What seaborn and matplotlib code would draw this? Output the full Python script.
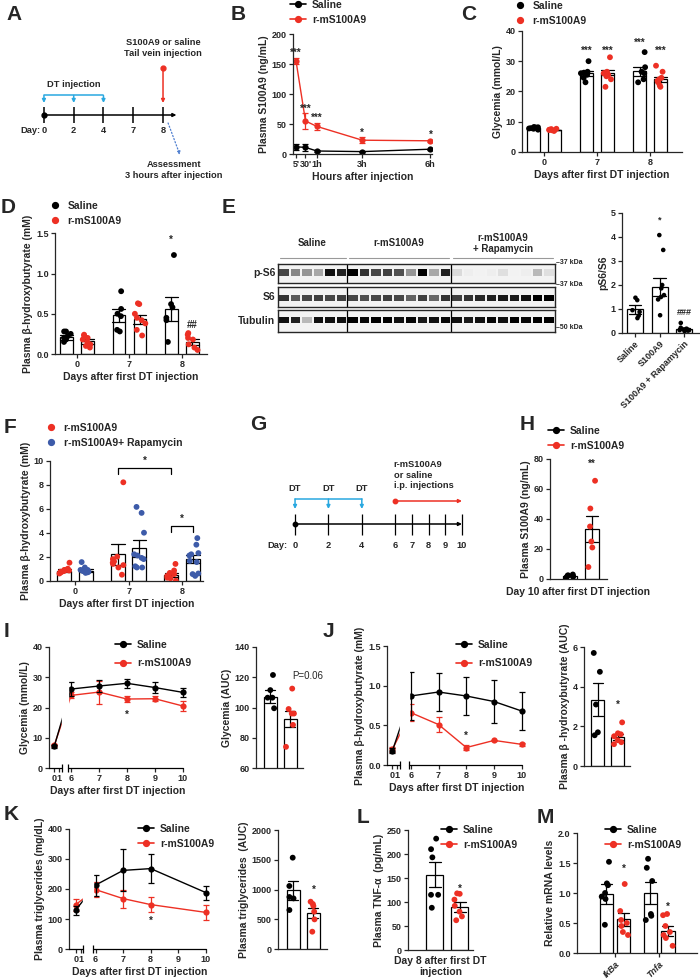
import numpy as np
import pandas as pd
import matplotlib.pyplot as plt
import seaborn as sns
from matplotlib.lines import Line2D

sns.set_style('ticks')
plt.rcParams['font.family'] = ['Liberation Sans', 'DejaVu Sans']
plt.rcParams.update({'font.weight': 'bold', 'axes.labelweight': 'bold', 'axes.linewidth': 0.9,
                     'xtick.major.width': 0.9, 'ytick.major.width': 0.9,
                     'xtick.major.size': 3, 'ytick.major.size': 3,
                     'xtick.labelsize': 6.5, 'ytick.labelsize': 6.5, 'axes.labelsize': 7.5,
                     'xtick.major.pad': 1.5, 'ytick.major.pad': 1.5, 'axes.labelpad': 2})
np.random.seed(3)

RED = '#ed3024'
BLUE = '#3d5ba9'
SKY = '#29a8e0'
SAL, RM, RAPA = 'Saline', 'r-mS100A9', 'r-mS100A9+ Rapamycin'
PAL = {SAL: 'black', RM: RED, RAPA: BLUE}
DAYS_LBL = 'Days after first DT injection'

# ---------------- data ----------------
# A: timeline
a_days = ['0', '2', '4', '7', '8']
a_dt = ['0', '2', '4']
a_s100 = '8'

# B: plasma S100A9 after injection (mean, sem)
b_hours = [5 / 60, 0.5, 1, 3, 6]
b_hour_labels = ["5'", "30'", "1h", "3h", "6h"]
b_sal_mean = [12, 11, 5, 4, 8]
b_sal_sem = [5, 6, 1.5, 1, 1]
b_rm_mean = [155, 55, 46, 23, 22]
b_rm_sem = [5, 13, 6, 5, 2]
b_stars = ['***', '***', '***', '*', '*']

# C: glycemia
c_days = ['0', '7', '8']
c_sal_mean = [7.8, 26.0, 26.6]
c_sal_sem = [0.2, 0.8, 1.4]
c_rm_mean = [7.2, 26.2, 24.0]
c_rm_sem = [0.15, 0.9, 0.9]
c_sal_pts = [[8.2, 8.0, 7.8, 7.6, 8.1, 7.3, 7.7],
             [30.0, 26.5, 26.0, 25.5, 24.5, 23.0, 26.2],
             [33.0, 28.0, 26.5, 26.0, 24.0, 23.0]]
c_rm_pts = [[7.5, 7.3, 7.0, 7.2, 6.9, 7.6, 7.1],
            [31.3, 26.5, 26.0, 25.5, 24.0, 21.5, 26.0, 25.0],
            [28.5, 26.5, 24.5, 24.0, 23.5, 22.0, 21.5, 23.0]]
c_marks = [('7', SAL, '***', 33.5), ('7', RM, '***', 33.5), ('8', SAL, '***', 36), ('8', RM, '***', 33.5)]

# D: plasma beta-hydroxybutyrate
d_days = ['0', '7', '8']
d_sal_mean = [0.21, 0.48, 0.56]
d_sal_sem = [0.03, 0.08, 0.15]
d_rm_mean = [0.16, 0.43, 0.15]
d_rm_sem = [0.03, 0.06, 0.04]
d_sal_pts = [[0.28, 0.28, 0.25, 0.22, 0.20, 0.15, 0.18],
             [0.78, 0.56, 0.50, 0.47, 0.30, 0.28],
             [1.23, 0.62, 0.58, 0.45, 0.42, 0.15]]
d_rm_pts = [[0.24, 0.23, 0.20, 0.18, 0.15, 0.10, 0.08, 0.12],
            [0.63, 0.62, 0.50, 0.45, 0.38, 0.30, 0.23, 0.42],
            [0.26, 0.24, 0.20, 0.18, 0.12, 0.05, 0.08]]
d_marks = [('8', SAL, '*', 1.42), ('8', RM, '##', 0.36)]

# E: western blot band intensities and quantification
e_groups = ['Saline', 'r-mS100A9', 'r-mS100A9\n+ Rapamycin']
e_lanes = [6, 9, 9]
e_rows = ['p-S6', 'S6', 'Tubulin']
e_kda = ['37 kDa', '37 kDa', '50 kDa']
e_pS6 = [0.7, 0.5, 0.45, 0.4, 0.85, 0.8,
         1.0, 0.75, 0.7, 0.72, 0.68, 0.45, 0.9, 0.4, 0.8,
         0.22, 0.12, 0.1, 0.12, 0.2, 0.1, 0.12, 0.35, 0.2]
e_S6 = [0.75, 0.65, 0.7, 0.72, 0.7, 0.72,
        0.7, 0.68, 0.7, 0.72, 0.7, 0.62, 0.72, 0.6, 0.75,
        0.72, 0.75, 0.78, 0.8, 0.82, 0.82, 0.85, 0.9, 0.92]
e_tub = [0.85, 0.8, 0.35, 0.85, 0.85, 0.85,
         0.9, 0.88, 0.9, 0.9, 0.85, 0.88, 0.82, 0.85, 0.88,
         0.85, 0.82, 0.85, 0.88, 0.85, 0.9, 0.88, 0.9, 0.9]
e_cats = ['Saline', 'S100A9', 'S100A9 + Rapamycin']
e_mean = [0.98, 1.93, 0.15]
e_sem = [0.17, 0.38, 0.04]
e_pts = [[1.47, 1.37, 0.95, 0.88, 0.72, 0.62],
         [4.08, 3.46, 2.0, 1.86, 1.58, 1.5, 1.4, 0.74],
         [0.42, 0.22, 0.18, 0.15, 0.12, 0.1, 0.08, 0.12, 0.15]]
e_marks = [('S100A9', '*', 4.7), ('S100A9 + Rapamycin', '###', 0.85)]

# F: rapamycin
f_days = ['0', '7', '8']
f_rm_mean = [0.85, 2.2, 0.5]
f_rm_sem = [0.1, 0.9, 0.15]
f_rapa_mean = [0.85, 2.7, 1.8]
f_rapa_sem = [0.1, 0.7, 0.35]
f_rm_pts = [[1.5, 1.0, 0.9, 0.8, 0.7, 0.75, 0.6, 0.85, 0.9],
            [8.2, 2.0, 1.8, 1.5, 1.4, 1.3, 1.1, 0.5, 1.6],
            [1.4, 0.85, 0.65, 0.55, 0.4, 0.3, 0.2, 0.0, 0.25]]
f_rapa_pts = [[1.55, 1.1, 0.9, 0.85, 0.75, 0.7, 0.65, 0.8, 0.9],
              [6.15, 5.65, 4.0, 2.1, 2.2, 1.8, 1.1, 1.1, 1.2, 1.9],
              [3.55, 3.0, 2.3, 2.2, 2.1, 1.65, 1.55, 0.6, 0.4, 0.55]]
f_brackets = [(('7', RM), ('8', RM), 9.4), (('8', RM), ('8', RAPA), 4.6)]

# G: timeline
g_days = [0, 2, 4, 6, 7, 8, 9, 10]
g_dt = [0, 2, 4]
g_treat = [6, 10]

# H: plasma S100A9 at day 10
h_mean = [2.0, 33.3]
h_sem = [0.3, 8.5]
h_pts = [[2.5, 2.0, 1.5, 1.0, 2.0, 3.0], [65.5, 47, 35, 25, 21, 8]]

# I, J, K: time courses (mean, sem) and AUC
ijk_days = [0, 6, 7, 8, 9, 10]
i_sal_mean = [7.2, 26.1, 27.1, 28.0, 26.6, 25.0]
i_sal_sem = [0.5, 2.2, 2.0, 1.5, 1.7, 1.5]
i_rm_mean = [7.5, 24.0, 25.1, 22.8, 22.9, 20.5]
i_rm_sem = [0.4, 1.0, 3.8, 1.0, 0.8, 1.6]
i_auc_mean = [107, 92.5]
i_auc_sem = [4.3, 5.5]
i_auc_pts = [[121.5, 111.5, 106.5, 106.5, 99.5], [112.5, 99, 96, 96, 88.5, 74]]

j_sal_mean = [0.18, 0.87, 0.92, 0.87, 0.80, 0.68]
j_sal_sem = [0.03, 0.30, 0.24, 0.24, 0.27, 0.24]
j_rm_mean = [0.20, 0.66, 0.51, 0.22, 0.31, 0.26]
j_rm_sem = [0.03, 0.11, 0.09, 0.03, 0.01, 0.02]
j_auc_mean = [3.35, 1.48]
j_auc_sem = [0.85, 0.15]
j_auc_pts = [[5.7, 4.75, 3.1, 1.7, 1.55], [2.2, 1.65, 1.6, 1.5, 1.3, 1.1, 1.2]]

k_days = [0, 6, 7, 8, 10]
k_sal_mean = [130, 213, 262, 268, 188]
k_sal_sem = [15, 35, 70, 48, 23]
k_rm_mean = [148, 198, 168, 148, 122]
k_rm_sem = [20, 25, 30, 26, 24]
k_auc_mean = [985, 605]
k_auc_sem = [155, 85]
k_auc_pts = [[1535, 1059, 874, 851, 655], [795, 756, 723, 627, 498, 291]]

# L: TNF-alpha
l_mean = [157, 90]
l_sem = [26, 10]
l_pts = [[232, 210, 193, 115, 115, 88], [118, 117, 105, 92, 80, 62, 70]]

# M: mRNA
m_genes = ['IkBa', 'Tnfa']
m_sal_mean = [0.98, 1.0]
m_sal_sem = [0.17, 0.18]
m_rm_mean = [0.56, 0.37]
m_rm_sem = [0.11, 0.08]
m_sal_pts = [[1.52, 1.16, 1.13, 1.0, 0.94, 0.9, 0.47], [1.57, 1.42, 1.2, 0.65, 0.62, 0.55]]
m_rm_pts = [[1.15, 0.7, 0.55, 0.5, 0.45, 0.35, 0.3], [0.65, 0.63, 0.45, 0.35, 0.3, 0.25, 0.12]]
m_marks = [('IkBa', RM, '*', 1.4), ('Tnfa', RM, '*', 0.77)]

# ---------------- helpers ----------------
W, H = 700, 980
fig = plt.figure(figsize=(W / 100, H / 100), dpi=100)


def px_axes(left, top, right, bottom):
    return fig.add_axes([left / W, 1 - bottom / H, (right - left) / W, (bottom - top) / H])


def err_frame(cats, series):
    # two rows per bar/point: mean - sem and mean + sem. Their mean is the value and
    # their full range (errorbar=('pi', 100)) is the SEM bar.
    rows = []
    for name, (means, sems) in series.items():
        for c, m, s in zip(cats, means, sems):
            rows += [(c, name, m - s), (c, name, m + s)]
    return pd.DataFrame(rows, columns=['x', 'g', 'v'])


def pts_frame(cats, series):
    rows = []
    for name, groups in series.items():
        for c, vals in zip(cats, groups):
            rows += [(c, name, v) for v in vals]
    return pd.DataFrame(rows, columns=['x', 'g', 'v'])


def bars(ax, ebar, pts, order, hue, hue_order, palette, width=0.8, gap=0.0, jitter=0.2, size=4.2):
    dodge = hue == 'g'
    sns.barplot(ebar, x='x', y='v', hue=hue, order=order, hue_order=hue_order,
                palette={k: 'white' for k in hue_order}, edgecolor='black', linewidth=0.9,
                estimator='mean', errorbar=('pi', 100), capsize=0.5,
                err_kws={'color': 'black', 'linewidth': 0.9},
                width=width, gap=gap, dodge=dodge, legend=False, ax=ax)
    sns.stripplot(pts, x='x', y='v', hue=hue, order=order, hue_order=hue_order, palette=palette,
                  dodge=dodge, jitter=jitter, size=size, linewidth=0, legend=False, ax=ax, zorder=3)
    ax.set_xlabel('')


def lines(ax, x, series, ms=4.5):
    sns.lineplot(err_frame(x, series), x='x', y='v', hue='g', hue_order=[RM, SAL], palette=PAL,
                 estimator='mean', errorbar=('pi', 100), err_style='bars',
                 err_kws={'capsize': 2.2, 'elinewidth': 0.9, 'capthick': 0.9},
                 marker='o', markersize=ms, markeredgewidth=0, linewidth=1.0, legend=False, ax=ax)
    ax.set_xlabel('')


def style(ax, ylim, yticks, ylabel):
    sns.despine(ax=ax)
    ax.set_ylim(*ylim)
    ax.set_yticks(yticks)
    ax.set_ylabel(ylabel)


def broken_x(ax, lo, end1, start2, hi, s1, gap, s2, pad=0.15):
    # GraphPad style broken axis: days lo..end1 squeezed, a gap, then start2..hi
    xs = [lo, end1, start2, hi + pad]
    ps = np.cumsum([0, (end1 - lo) * s1, gap, (hi + pad - start2) * s2])
    ax.set_xscale('function', functions=(lambda d: np.interp(d, xs, ps), lambda p: np.interp(p, ps, xs)))
    ax.set_xlim(lo, hi + pad)
    ax.set_xticks([0, 1, 6, 7, 8, 9, 10])
    ax.set_xticklabels(['0', '1', '6', '7', '8', '9', '10'])
    ax.spines['bottom'].set_visible(False)
    ax.axvspan(end1, start2, color='white', zorder=4)
    tf = ax.get_xaxis_transform()
    ax.plot([lo, end1], [0, 0], transform=tf, color='black', lw=0.9, marker='|', markevery=[1],
            ms=6, mew=0.9, clip_on=False, zorder=5)
    ax.plot([start2, hi], [0, 0], transform=tf, color='black', lw=0.9, marker='|', markevery=[0],
            ms=6, mew=0.9, clip_on=False, zorder=5)
    ax.set_xlabel(DAYS_LBL)


def mark(ax, x, y, s, size=7):
    ax.text(x, y, s, ha='center', va='center', fontsize=size, zorder=6)


def legend(ax, entries, x, y, line=True, spacing=0.45):
    handles = [Line2D([], [], color=PAL[e], marker='o', ms=4.2, lw=1.2 if line else 0, label=e)
               for e in entries]
    ax.legend(handles=handles, loc='upper left', bbox_to_anchor=(x / W, 1 - y / H),
              bbox_transform=fig.transFigure, frameon=False, fontsize=7.5,
              handlelength=1.5 if line else 0.7, handletextpad=0.6 if line else 0.9,
              labelspacing=spacing, borderpad=0, borderaxespad=0)


def off(hue_order, g):
    return (hue_order.index(g) - 0.5) * 0.4


arrow = dict(arrowstyle='-|>', lw=1.1, mutation_scale=5, shrinkA=0, shrinkB=0)

# ---------------- A ----------------
ax = px_axes(10, 35, 230, 185)
ax.axis('off')
ax.set_xlim(-1.14, 6.25)
ax.set_ylim(-7, 8)
pos = np.arange(len(a_days))
ax.annotate('', xy=(pos[-1] + 0.45, 0), xytext=(0, 0), arrowprops=dict(arrow, color='black'))
ax.vlines(pos, -0.8, 0.8, color='black', lw=1.1)
ax.plot(0, 0, 'o', color='black', ms=3.5)
for p, d in zip(pos, a_days):
    ax.text(p, -1.6, d, ha='center', va='center', fontsize=6.7)
ax.text(-0.1, -1.6, 'Day:', ha='right', va='center', fontsize=6.7)
dt_pos = [a_days.index(d) for d in a_dt]
ax.plot([dt_pos[0], dt_pos[-1]], [1.95, 1.95], color=SKY, lw=1.1)
for p in dt_pos:
    ax.annotate('', xy=(p, 1.2), xytext=(p, 1.95), arrowprops=dict(arrow, color=SKY))
ax.text(np.mean(dt_pos), 3.0, 'DT injection', ha='center', va='center', fontsize=6.7)
sp = a_days.index(a_s100)
ax.annotate('', xy=(sp, 1.2), xytext=(sp, 4.7), arrowprops=dict(arrow, color=RED))
ax.plot(sp, 4.7, 'o', color=RED, ms=3.5)
ax.text(sp, 6.7, 'S100A9 or saline\nTail vein injection', ha='center', va='center', fontsize=6.7,
        linespacing=1.15)
ax.annotate('', xy=(sp + 0.57, -4.0), xytext=(sp + 0.17, -0.8),
            arrowprops=dict(arrow, color='#4f7fd0', ls=':', lw=0.9))
ax.text(sp + 0.37, -5.5, 'Assessment\n3 hours after injection', ha='center', va='center',
        fontsize=6.7, linespacing=1.3)

# ---------------- B ----------------
ax = px_axes(293, 34, 432, 154)
lines(ax, b_hours, {SAL: (b_sal_mean, b_sal_sem), RM: (b_rm_mean, b_rm_sem)})
style(ax, (0, 200), range(0, 201, 50), 'Plasma S100A9 (ng/mL)')
ax.set_xlim(-0.05, 6.07)
ax.set_xticks(b_hours)
ax.set_xticklabels(b_hour_labels)
ax.set_xlabel('Hours after injection')
for h, m, s, st in zip(b_hours, b_rm_mean, b_rm_sem, b_stars):
    mark(ax, h, m + s + 8, st)
legend(ax, [SAL, RM], 290, 0)

# ---------------- C ----------------
ax = px_axes(522, 31, 682, 151.7)
bars(ax, err_frame(c_days, {SAL: (c_sal_mean, c_sal_sem), RM: (c_rm_mean, c_rm_sem)}),
     pts_frame(c_days, {SAL: c_sal_pts, RM: c_rm_pts}), c_days, 'g', [SAL, RM], PAL, gap=0.38, jitter=0.22)
style(ax, (0, 40), range(0, 41, 10), 'Glycemia (mmol/L)')
ax.set_xlim(-0.415, 2.6)
ax.set_xlabel(DAYS_LBL)
for d, g, s, y in c_marks:
    mark(ax, c_days.index(d) + off([SAL, RM], g), y, s)
legend(ax, [SAL, RM], 516, 1, line=False)

# ---------------- D ----------------
ax = px_axes(55, 233.3, 207, 354)
bars(ax, err_frame(d_days, {SAL: (d_sal_mean, d_sal_sem), RM: (d_rm_mean, d_rm_sem)}),
     pts_frame(d_days, {SAL: d_sal_pts, RM: d_rm_pts}), d_days, 'g', [SAL, RM], PAL, gap=0.4, jitter=0.22)
style(ax, (0, 1.5), [0, 0.5, 1.0, 1.5], 'Plasma β-hydroxybutyrate (mM)')
ax.set_xlim(-0.42, 2.48)
ax.set_xlabel(DAYS_LBL)
for d, g, s, y in d_marks:
    mark(ax, d_days.index(d) + off([SAL, RM], g), y, s)
legend(ax, [SAL, RM], 51, 201, line=False)

# ---------------- E blot ----------------
boxes = [(278, 264, 555, 283, 0.45), (278, 287, 555, 307, 0.55), (278, 310, 555, 332, 0.45)]
cum = np.concatenate([[0], np.cumsum(e_lanes)])
for i, (row, vals, kda, (l, t, r, b, f)) in enumerate(zip(e_rows, [e_pS6, e_S6, e_tub], e_kda, boxes)):
    ax = px_axes(l, t, r, b)
    sns.heatmap(np.array([vals]), ax=ax, cmap='Greys', vmin=0, vmax=0.9, cbar=False,
                linewidths=1.1, linecolor='#f3f3f3', xticklabels=False, yticklabels=False)
    ax.set_facecolor('#f3f3f3')
    total = (b - t) / 8.5
    top = 0.5 - f * total
    ax.set_ylim(top + total, top)
    for s in ax.spines.values():
        s.set_visible(True)
        s.set_linewidth(1.0)
    for c in cum[1:-1]:
        ax.axvline(c, color='black', lw=0.9)
    ax.text(-0.01, 0.5, row, transform=ax.transAxes, ha='right', va='center', fontsize=7.5)
    ky = 1.1 if i < 2 else 0.2
    ax.text(1.003, ky, '–' + kda, transform=ax.transAxes, ha='left', va='center', fontsize=5)
    if i == 0:
        tf = ax.get_xaxis_transform()
        for g, s0, n in zip(e_groups, cum[:-1], e_lanes):
            ax.text(s0 + n / 2, 2.1, g, transform=tf, ha='center', va='center', fontsize=7,
                    linespacing=1.1)
            ax.plot([s0 + 0.15, s0 + n - 0.15], [1.32, 1.32], transform=tf, color='#999999',
                    lw=0.8, clip_on=False)

# ---------------- E quantification ----------------
ax = px_axes(622, 213, 700, 333)
bars(ax, err_frame(e_cats, {'': (e_mean, e_sem)}), pts_frame(e_cats, {'': e_pts}), e_cats, 'x', e_cats,
     {c: 'black' for c in e_cats}, width=0.65, jitter=0.22, size=3.3)
style(ax, (0, 5), range(0, 6), 'pS6/S6')
ax.set_xlim(-0.53, 2.65)
ax.tick_params(axis='x', rotation=45)
plt.setp(ax.get_xticklabels(), ha='right', rotation_mode='anchor')
for c, s, y in e_marks:
    mark(ax, e_cats.index(c), y, s, size=6.5)

# ---------------- F ----------------
ax = px_axes(50, 460.7, 203, 580.7)
bars(ax, err_frame(f_days, {RM: (f_rm_mean, f_rm_sem), RAPA: (f_rapa_mean, f_rapa_sem)}),
     pts_frame(f_days, {RM: f_rm_pts, RAPA: f_rapa_pts}), f_days, 'g', [RM, RAPA], PAL, gap=0.35, jitter=0.22)
style(ax, (0, 10), range(0, 11, 2), 'Plasma β-hydroxybutyrate (mM)')
ax.set_xlim(-0.47, 2.39)
ax.set_xlabel(DAYS_LBL)
for (d1, g1), (d2, g2), y in f_brackets:
    x1 = f_days.index(d1) + off([RM, RAPA], g1)
    x2 = f_days.index(d2) + off([RM, RAPA], g2)
    ax.plot([x1, x1, x2, x2], [y - 0.5, y, y, y - 0.5], color='black', lw=0.9)
    mark(ax, (x1 + x2) / 2, y + 0.55, '*')
legend(ax, [RM, RAPA], 47, 423, line=False)

# ---------------- G ----------------
ax = px_axes(262, 450, 480, 555)
ax.axis('off')
ax.set_xlim(-1.98, 11.08)
ax.set_ylim(-3.1, 7.4)
ax.annotate('', xy=(g_days[-1], 0), xytext=(g_days[0], 0), arrowprops=dict(arrow, color='black'))
ax.vlines(g_days, -1.1, 1.0, color='black', lw=0.9)
ax.plot(g_days[0], 0, 'o', color='black', ms=3.2)
for d in g_days:
    ax.text(d, -2.2, str(d), ha='center', va='center', fontsize=6.7)
ax.text(-0.45, -2.2, 'Day:', ha='right', va='center', fontsize=6.7)
ax.plot([g_dt[0], g_dt[-1]], [2.5, 2.5], color=SKY, lw=1.1)
for d in g_dt:
    ax.annotate('', xy=(d, 1.5), xytext=(d, 2.5), arrowprops=dict(arrow, color=SKY))
    ax.text(d, 3.6, 'DT', ha='center', va='center', fontsize=6.7)
ax.annotate('', xy=(g_treat[1], 2.3), xytext=(g_treat[0], 2.3), arrowprops=dict(arrow, color=RED))
ax.plot(g_treat[0], 2.3, 'o', color=RED, ms=3.2)
ax.text(g_treat[0] - 0.1, 3.4, 'r-mS100A9\nor saline\ni.p. injections', ha='left', va='bottom',
        fontsize=6.7, linespacing=1.2)

# ---------------- H ----------------
ax = px_axes(550, 459, 607, 579)
bars(ax, err_frame([SAL, RM], {'': (h_mean, h_sem)}), pts_frame([SAL, RM], {'': h_pts}),
     [SAL, RM], 'x', [SAL, RM], PAL, width=0.6, jitter=0.2)
style(ax, (0, 80), range(0, 81, 20), 'Plasma S100A9 (ng/mL)')
ax.set_xlim(-0.9, 1.68)
ax.set_xticks([])
ax.set_xlabel('Day 10 after first DT injection', labelpad=6)
mark(ax, 1, 77, '**')
legend(ax, [SAL, RM], 548, 426)

# ---------------- I ----------------
ax = px_axes(49, 647, 187, 768)
lines(ax, ijk_days, {SAL: (i_sal_mean, i_sal_sem), RM: (i_rm_mean, i_rm_sem)})
style(ax, (0, 40), range(0, 41, 10), 'Glycemia (mmol/L)')
broken_x(ax, -1.06, 1.48, 5.9, 10.0, 5, 6.6, 28)
mark(ax, 8, 17.5, '*')
legend(ax, [SAL, RM], 115, 640, spacing=0.8)

ax = px_axes(256, 647, 303, 768)
bars(ax, err_frame([SAL, RM], {'': (i_auc_mean, i_auc_sem)}), pts_frame([SAL, RM], {'': i_auc_pts}),
     [SAL, RM], 'x', [SAL, RM], PAL, width=0.65, jitter=0.22)
style(ax, (60, 140), range(60, 141, 20), 'Glycemia (AUC)')
ax.set_xlim(-0.7, 1.65)
ax.set_xticks([])
ax.text(1.1, 121, 'P=0.06', ha='left', va='center', fontsize=7, fontweight='normal')

# ---------------- J ----------------
ax = px_axes(387, 646, 526, 765)
lines(ax, ijk_days, {SAL: (j_sal_mean, j_sal_sem), RM: (j_rm_mean, j_rm_sem)})
style(ax, (0, 1.5), [0, 0.5, 1.0, 1.5], 'Plasma β-hydroxybutyrate (mM)')
broken_x(ax, -1.1, 1.54, 5.94, 10.0, 5, 9, 27.9)
mark(ax, 8, 0.37, '*')
legend(ax, [SAL, RM], 456, 640, spacing=0.8)

ax = px_axes(584, 647, 630, 766)
bars(ax, err_frame([SAL, RM], {'': (j_auc_mean, j_auc_sem)}), pts_frame([SAL, RM], {'': j_auc_pts}),
     [SAL, RM], 'x', [SAL, RM], PAL, width=0.65, jitter=0.22)
style(ax, (0, 6), range(0, 7, 2), 'Plasma β -hydroxybutyrate (AUC)')
ax.set_xlim(-0.68, 1.6)
ax.set_xticks([])
mark(ax, 1, 3.1, '*')

# ---------------- K ----------------
ax = px_axes(69, 829, 210, 949)
lines(ax, k_days, {SAL: (k_sal_mean, k_sal_sem), RM: (k_rm_mean, k_rm_sem)})
style(ax, (0, 400), range(0, 401, 100), 'Plasma triglycerides (mg/dL)')
broken_x(ax, -1.17, 1.28, 5.91, 10.0, 5.7, 10, 27.5)
mark(ax, 8, 95, '*')
legend(ax, [SAL, RM], 138, 824)

ax = px_axes(278, 830, 327, 949)
bars(ax, err_frame([SAL, RM], {'': (k_auc_mean, k_auc_sem)}), pts_frame([SAL, RM], {'': k_auc_pts}),
     [SAL, RM], 'x', [SAL, RM], PAL, width=0.65, jitter=0.22)
style(ax, (0, 2000), range(0, 2001, 500), 'Plasma triglycerides  (AUC)')
ax.set_xlim(-0.75, 1.67)
ax.set_xticks([])
mark(ax, 1, 1000, '*')

# ---------------- L ----------------
ax = px_axes(408, 830, 473, 950)
bars(ax, err_frame([SAL, RM], {'': (l_mean, l_sem)}), pts_frame([SAL, RM], {'': l_pts}),
     [SAL, RM], 'x', [SAL, RM], PAL, width=0.68, jitter=0.22)
style(ax, (0, 250), range(0, 251, 50), 'Plasma TNF-α  (pg/mL)')
ax.set_xlim(-1.07, 1.52)
ax.set_xticks([])
ax.set_xlabel('Day 8 after first DT\ninjection', labelpad=4)
mark(ax, 1, 127, '*')
legend(ax, [SAL, RM], 441, 825)

# ---------------- M ----------------
ax = px_axes(577, 833, 697, 953)
bars(ax, err_frame(m_genes, {SAL: (m_sal_mean, m_sal_sem), RM: (m_rm_mean, m_rm_sem)}),
     pts_frame(m_genes, {SAL: m_sal_pts, RM: m_rm_pts}), m_genes, 'g', [SAL, RM], PAL, gap=0.25, jitter=0.22)
style(ax, (0, 2.0), [0, 0.5, 1.0, 1.5, 2.0], 'Relative mRNA levels')
ax.set_xlim(-0.86, 1.86)
ax.tick_params(axis='x', rotation=45)
plt.setp(ax.get_xticklabels(), ha='right', rotation_mode='anchor', style='italic')
for gname, g, s, y in m_marks:
    mark(ax, m_genes.index(gname) + off([SAL, RM], g), y, s)
legend(ax, [SAL, RM], 605, 825)

# ---------------- panel letters ----------------
letters = list('ABCDEFGHIJKLM')
letter_xy = [(6, 20), (231, 20), (461, 20), (1, 213), (222, 213), (4, 433), (250, 430), (520, 430),
             (4, 637), (323, 637), (4, 820), (357, 823), (537, 823)]
for s, (x, y) in zip(letters, letter_xy):
    fig.text(x / W, 1 - y / H, s, fontsize=15, fontweight='bold', va='baseline')

fig.savefig('out.png', dpi=100)
